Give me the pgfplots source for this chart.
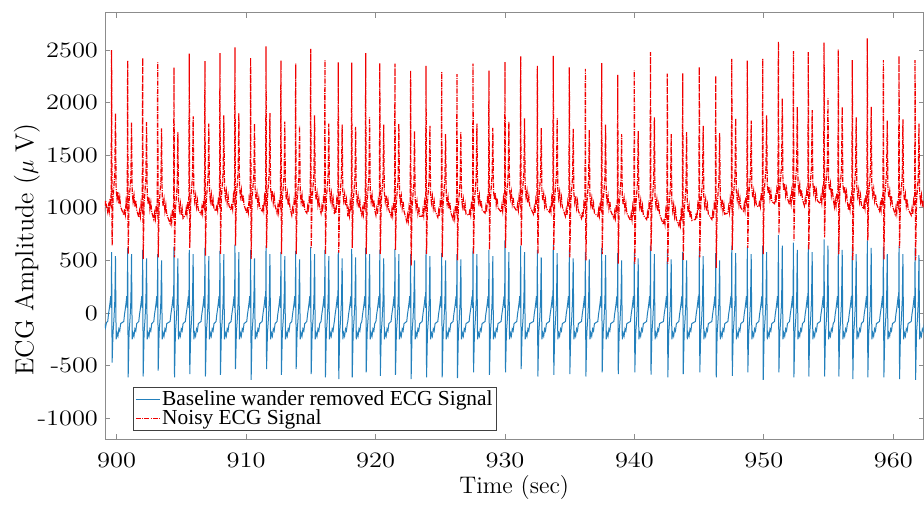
\documentclass[border=0pt]{standalone}
\usepackage{pgfplots}
\pgfplotsset{compat=1.18}
\usepackage{pgfplotstable}
\usepackage{graphicx}
\usepackage{fontspec}
\newfontfamily\legfont{Liberation Serif}
\definecolor{ecgblue}{RGB}{35,128,188}
\definecolor{ecgred}{RGB}{240,0,0}

\pgfplotstableread{
t r b
899.00 1060 -160
899.07 1000 -110
899.14 1070 -140
899.21 1020 -90
899.31 960 -80
899.37 1020 -10
899.43 970 40
899.49 1090 100
899.54 1050 160
899.58 1140 50
899.61 2500 580
899.65 640 -470
899.72 1090 -190
899.79 1210 -60
899.86 1330 120
899.91 1900 540
899.96 1180 -250
900.03 1090 -190
900.10 1150 -220
900.17 1040 -150
900.24 1100 -170
900.31 1010 -100
900.55 930 -80
900.61 990 -10
900.67 940 40
900.73 1060 100
900.78 1020 160
900.82 1110 50
900.85 2400 620
900.89 560 -612
900.96 1060 -190
901.03 1180 -60
901.10 1300 120
901.15 1810 560
901.20 1150 -250
901.27 1060 -190
901.34 1120 -220
901.41 1010 -150
901.48 1070 -170
901.55 980 -100
901.71 910 -80
901.77 970 -10
901.83 920 40
901.89 1040 100
901.94 1000 160
901.98 1090 50
902.01 2425 600
902.05 515 -603
902.12 1040 -190
902.19 1160 -60
902.26 1280 120
902.31 1815 520
902.36 1130 -250
902.43 1040 -190
902.50 1100 -220
902.57 990 -150
902.64 1050 -170
902.71 960 -100
902.87 890 -80
902.93 950 -10
902.99 900 40
903.05 1020 100
903.10 980 160
903.14 1070 50
903.17 2385 560
903.21 530 -548
903.28 1020 -190
903.35 1140 -60
903.42 1260 120
903.47 1755 500
903.52 1110 -250
903.59 1020 -190
903.66 1080 -220
903.73 970 -150
903.80 1030 -170
903.87 940 -100
904.13 850 -80
904.19 910 -10
904.25 860 40
904.31 980 100
904.36 940 160
904.40 1030 50
904.43 2335 630
904.47 530 -612
904.54 980 -190
904.61 1100 -60
904.68 1220 120
904.73 1720 520
904.78 1070 -250
904.85 980 -190
904.92 1040 -220
904.99 930 -150
905.06 990 -170
905.13 900 -100
905.31 930 -80
905.37 990 -10
905.43 940 40
905.49 1060 100
905.54 1020 160
905.58 1110 50
905.61 2465 600
905.65 620 -580
905.72 1060 -190
905.79 1180 -60
905.86 1300 120
905.91 1870 560
905.96 1150 -250
906.03 1060 -190
906.10 1120 -220
906.17 1010 -150
906.24 1070 -170
906.31 980 -100
906.52 940 -80
906.58 1000 -10
906.64 950 40
906.70 1070 100
906.75 1030 160
906.79 1120 50
906.82 2395 620
906.86 545 -603
906.93 1070 -190
907.00 1190 -60
907.07 1310 120
907.12 1800 540
907.17 1160 -250
907.24 1070 -190
907.31 1130 -220
907.38 1020 -150
907.45 1080 -170
907.52 990 -100
907.68 970 -80
907.74 1030 -10
907.80 980 40
907.86 1100 100
907.91 1060 160
907.95 1150 50
907.98 2470 590
908.02 560 -587
908.09 1100 -190
908.16 1220 -60
908.23 1340 120
908.28 1880 560
908.33 1190 -250
908.40 1100 -190
908.47 1160 -220
908.54 1050 -150
908.61 1110 -170
908.68 1020 -100
908.84 980 -80
908.90 1040 -10
908.96 990 40
909.02 1110 100
909.07 1070 160
909.11 1160 50
909.14 2525 650
909.18 640 -532
909.25 1110 -190
909.32 1230 -60
909.39 1350 120
909.44 1900 580
909.49 1200 -250
909.56 1110 -190
909.63 1170 -220
909.70 1060 -150
909.77 1120 -170
909.84 1030 -100
910.05 950 -80
910.11 1010 -10
910.17 960 40
910.23 1080 100
910.28 1040 160
910.32 1130 50
910.35 2425 600
910.39 515 -634
910.46 1080 -190
910.53 1200 -60
910.60 1320 120
910.65 1800 520
910.70 1170 -250
910.77 1080 -190
910.84 1140 -220
910.91 1030 -150
910.98 1090 -170
911.05 1000 -100
911.24 970 -80
911.30 1030 -10
911.36 980 40
911.42 1100 100
911.47 1060 160
911.51 1150 50
911.54 2535 640
911.58 620 -532
911.65 1100 -190
911.72 1220 -60
911.79 1340 120
911.84 1900 560
911.89 1190 -250
911.96 1100 -190
912.03 1160 -220
912.10 1050 -150
912.17 1110 -170
912.24 1020 -100
912.39 950 -80
912.45 1010 -10
912.51 960 40
912.57 1080 100
912.62 1040 160
912.66 1130 50
912.69 2400 580
912.73 560 -587
912.80 1080 -190
912.87 1200 -60
912.94 1320 120
912.99 1820 540
913.04 1170 -250
913.11 1080 -190
913.18 1140 -220
913.25 1030 -150
913.32 1090 -170
913.39 1000 -100
913.53 930 -80
913.59 990 -10
913.65 940 40
913.71 1060 100
913.76 1020 160
913.80 1110 50
913.83 2370 590
913.87 560 -532
913.94 1060 -190
914.01 1180 -60
914.08 1300 120
914.13 1780 510
914.18 1150 -250
914.25 1060 -190
914.32 1120 -220
914.39 1010 -150
914.46 1070 -170
914.53 980 -100
914.69 950 -80
914.75 1010 -10
914.81 960 40
914.87 1080 100
914.92 1040 160
914.96 1130 50
914.99 2510 630
915.03 620 -580
915.10 1080 -190
915.17 1200 -60
915.24 1320 120
915.29 1880 560
915.34 1170 -250
915.41 1080 -190
915.48 1140 -220
915.55 1030 -150
915.62 1090 -170
915.69 1000 -100
915.79 950 -80
915.85 1010 -10
915.91 960 40
915.97 1080 100
916.02 1040 160
916.06 1130 50
916.09 2405 600
916.13 560 -612
916.20 1080 -190
916.27 1200 -60
916.34 1320 120
916.39 1800 540
916.44 1170 -250
916.51 1080 -190
916.58 1140 -220
916.65 1030 -150
916.72 1090 -170
916.79 1000 -100
916.82 940 -80
916.88 1000 -10
916.94 950 40
917.00 1070 100
917.05 1030 160
917.09 1120 50
917.12 2385 580
917.16 575 -628
917.23 1070 -190
917.30 1190 -60
917.37 1310 120
917.42 1790 520
917.47 1160 -250
917.54 1070 -190
917.61 1130 -220
917.68 1020 -150
917.75 1080 -170
917.82 990 -100
917.86 920 -80
917.92 980 -10
917.98 930 40
918.04 1050 100
918.09 1010 160
918.13 1100 50
918.16 2380 610
918.20 620 -612
918.27 1050 -190
918.34 1170 -60
918.41 1290 120
918.46 1770 530
918.51 1140 -250
918.58 1050 -190
918.65 1110 -220
918.72 1000 -150
918.79 1060 -170
918.86 970 -100
918.94 930 -80
919.00 990 -10
919.06 940 40
919.12 1060 100
919.17 1020 160
919.21 1110 50
919.24 2470 620
919.28 560 -564
919.35 1060 -190
919.42 1180 -60
919.49 1300 120
919.54 1860 560
919.59 1150 -250
919.66 1060 -190
919.73 1120 -220
919.80 1010 -150
919.87 1070 -170
919.94 980 -100
920.03 930 -80
920.09 990 -10
920.15 940 40
920.21 1060 100
920.26 1020 160
920.30 1110 50
920.33 2375 600
920.37 560 -596
920.44 1060 -190
920.51 1180 -60
920.58 1300 120
920.63 1790 520
920.68 1150 -250
920.75 1060 -190
920.82 1120 -220
920.89 1010 -150
920.96 1070 -170
921.03 980 -100
921.20 920 -80
921.26 980 -10
921.32 930 40
921.38 1050 100
921.43 1010 160
921.47 1100 50
921.50 2370 610
921.54 600 -587
921.61 1050 -190
921.68 1170 -60
921.75 1290 120
921.80 1800 560
921.85 1140 -250
921.92 1050 -190
921.99 1110 -220
922.06 1000 -150
922.13 1060 -170
922.20 970 -100
922.41 870 -80
922.47 930 -10
922.53 880 40
922.59 1000 100
922.64 960 160
922.68 1050 50
922.71 2305 560
922.75 450 -628
922.82 1000 -190
922.89 1120 -60
922.96 1240 120
923.01 1730 500
923.06 1090 -250
923.13 1000 -190
923.20 1060 -220
923.27 950 -150
923.34 1010 -170
923.41 920 -100
923.60 920 -80
923.66 980 -10
923.72 930 40
923.78 1050 100
923.83 1010 160
923.87 1100 50
923.90 2350 600
923.94 560 -612
924.01 1050 -190
924.08 1170 -60
924.15 1290 120
924.20 1780 540
924.25 1140 -250
924.32 1050 -190
924.39 1110 -220
924.46 1000 -150
924.53 1060 -170
924.60 970 -100
924.81 910 -80
924.87 970 -10
924.93 920 40
924.99 1040 100
925.04 1000 160
925.08 1090 50
925.11 2290 570
925.15 530 -612
925.22 1040 -190
925.29 1160 -60
925.36 1280 120
925.41 1700 500
925.46 1130 -250
925.53 1040 -190
925.60 1100 -220
925.67 990 -150
925.74 1050 -170
925.81 960 -100
925.99 890 -80
926.05 950 -10
926.11 900 40
926.17 1020 100
926.22 980 160
926.26 1070 50
926.29 2270 560
926.33 500 -618
926.40 1020 -190
926.47 1140 -60
926.54 1260 120
926.59 1720 510
926.64 1110 -250
926.71 1020 -190
926.78 1080 -220
926.85 970 -150
926.92 1030 -170
926.99 940 -100
927.23 930 -80
927.29 990 -10
927.35 940 40
927.41 1060 100
927.46 1020 160
927.50 1110 50
927.53 2370 620
927.57 560 -564
927.64 1060 -190
927.71 1180 -60
927.78 1300 120
927.83 1800 560
927.88 1150 -250
927.95 1060 -190
928.02 1120 -220
928.09 1010 -150
928.16 1070 -170
928.23 980 -100
928.46 950 -80
928.52 1010 -10
928.58 960 40
928.64 1080 100
928.69 1040 160
928.73 1130 50
928.76 2305 600
928.80 600 -587
928.87 1080 -190
928.94 1200 -60
929.01 1320 120
929.06 1760 540
929.11 1170 -250
929.18 1080 -190
929.25 1140 -220
929.32 1030 -150
929.39 1090 -170
929.46 1000 -100
929.70 960 -80
929.76 1020 -10
929.82 970 40
929.88 1090 100
929.93 1050 160
929.97 1140 50
930.00 2385 690
930.04 620 -564
930.11 1090 -190
930.18 1210 -60
930.25 1330 120
930.30 1820 580
930.35 1180 -250
930.42 1090 -190
930.49 1150 -220
930.56 1040 -150
930.63 1100 -170
930.70 1010 -100
930.91 970 -80
930.97 1030 -10
931.03 980 40
931.09 1100 100
931.14 1060 160
931.18 1150 50
931.21 2440 640
931.25 640 -532
931.32 1100 -190
931.39 1220 -60
931.46 1340 120
931.51 1850 580
931.56 1190 -250
931.63 1100 -190
931.70 1160 -220
931.77 1050 -150
931.84 1110 -170
931.91 1020 -100
932.20 940 -80
932.26 1000 -10
932.32 950 40
932.38 1070 100
932.43 1030 160
932.47 1120 50
932.50 2350 600
932.54 560 -603
932.61 1070 -190
932.68 1190 -60
932.75 1310 120
932.80 1760 530
932.85 1160 -250
932.92 1070 -190
932.99 1130 -220
933.06 1020 -150
933.13 1080 -170
933.20 990 -100
933.43 960 -80
933.49 1020 -10
933.55 970 40
933.61 1090 100
933.66 1050 160
933.70 1140 50
933.73 2445 650
933.77 600 -587
933.84 1090 -190
933.91 1210 -60
933.98 1330 120
934.03 1850 570
934.08 1180 -250
934.15 1090 -190
934.22 1150 -220
934.29 1040 -150
934.36 1100 -170
934.43 1010 -100
934.67 920 -80
934.73 980 -10
934.79 930 40
934.85 1050 100
934.90 1010 160
934.94 1100 50
934.97 2335 600
935.01 530 -580
935.08 1050 -190
935.15 1170 -60
935.22 1290 120
935.27 1750 520
935.32 1140 -250
935.39 1050 -190
935.46 1110 -220
935.53 1000 -150
935.60 1060 -170
935.67 970 -100
935.91 900 -80
935.97 960 -10
936.03 910 40
936.09 1030 100
936.14 990 160
936.18 1080 50
936.21 2320 580
936.25 500 -603
936.32 1030 -190
936.39 1150 -60
936.46 1270 120
936.51 1740 510
936.56 1120 -250
936.63 1030 -190
936.70 1090 -220
936.77 980 -150
936.84 1040 -170
936.91 950 -100
937.17 920 -80
937.23 980 -10
937.29 930 40
937.35 1050 100
937.40 1010 160
937.44 1100 50
937.47 2375 620
937.51 560 -564
937.58 1050 -190
937.65 1170 -60
937.72 1290 120
937.77 1790 550
937.82 1140 -250
937.89 1050 -190
937.96 1110 -220
938.03 1000 -150
938.10 1060 -170
938.17 970 -100
938.41 900 -80
938.47 960 -10
938.53 910 40
938.59 1030 100
938.64 990 160
938.68 1080 50
938.71 2265 570
938.75 470 -580
938.82 1030 -190
938.89 1150 -60
938.96 1270 120
939.01 1700 500
939.06 1120 -250
939.13 1030 -190
939.20 1090 -220
939.27 980 -150
939.34 1040 -170
939.41 950 -100
939.69 880 -80
939.75 940 -10
939.81 890 40
939.87 1010 100
939.92 970 160
939.96 1060 50
939.99 2305 580
940.03 470 -564
940.10 1010 -190
940.17 1130 -60
940.24 1250 120
940.29 1730 520
940.34 1100 -250
940.41 1010 -190
940.48 1070 -220
940.55 960 -150
940.62 1020 -170
940.69 930 -100
940.94 890 -80
941.00 950 -10
941.06 900 40
941.12 1020 100
941.17 980 160
941.21 1070 50
941.24 2480 640
941.28 590 -585
941.35 1020 -190
941.42 1140 -60
941.49 1260 120
941.54 1860 560
941.59 1110 -250
941.66 1020 -190
941.73 1080 -220
941.80 970 -150
941.87 1030 -170
941.94 940 -100
942.24 840 -80
942.30 900 -10
942.36 850 40
942.42 970 100
942.47 930 160
942.51 1020 50
942.54 2275 600
942.58 470 -612
942.65 970 -190
942.72 1090 -60
942.79 1210 120
942.84 1700 510
942.89 1060 -250
942.96 970 -190
943.03 1030 -220
943.10 920 -150
943.17 980 -170
943.24 890 -100
943.43 830 -80
943.49 890 -10
943.55 840 40
943.61 960 100
943.66 920 160
943.70 1010 50
943.73 2280 580
943.77 500 -580
943.84 960 -190
943.91 1080 -60
943.98 1200 120
944.03 1720 500
944.08 1050 -250
944.15 960 -190
944.22 1020 -220
944.29 910 -150
944.36 970 -170
944.43 880 -100
944.71 890 -80
944.77 950 -10
944.83 900 40
944.89 1020 100
944.94 980 160
944.98 1070 50
945.01 2340 620
945.05 530 -564
945.12 1020 -190
945.19 1140 -60
945.26 1260 120
945.31 1780 540
945.36 1110 -250
945.43 1020 -190
945.50 1080 -220
945.57 970 -150
945.64 1030 -170
945.71 940 -100
945.98 890 -80
946.04 950 -10
946.10 900 40
946.16 1020 100
946.21 980 160
946.25 1070 50
946.28 2255 570
946.32 430 -612
946.39 1020 -190
946.46 1140 -60
946.53 1260 120
946.58 1710 500
946.63 1110 -250
946.70 1020 -190
946.77 1080 -220
946.84 970 -150
946.91 1030 -170
946.98 940 -100
947.22 950 -80
947.28 1010 -10
947.34 960 40
947.40 1080 100
947.45 1040 160
947.49 1130 50
947.52 2415 640
947.56 600 -596
947.63 1080 -190
947.70 1200 -60
947.77 1320 120
947.82 1850 570
947.87 1170 -250
947.94 1080 -190
948.01 1140 -220
948.08 1030 -150
948.15 1090 -170
948.22 1000 -100
948.42 970 -80
948.48 1030 -10
948.54 980 40
948.60 1100 100
948.65 1060 160
948.69 1150 50
948.72 2400 630
948.76 620 -564
948.83 1100 -190
948.90 1220 -60
948.97 1340 120
949.02 1830 560
949.07 1190 -250
949.14 1100 -190
949.21 1160 -220
949.28 1050 -150
949.35 1110 -170
949.42 1020 -100
949.61 1010 -80
949.67 1070 -10
949.73 1020 40
949.79 1140 100
949.84 1100 160
949.88 1190 50
949.91 2415 640
949.95 560 -634
950.02 1140 -190
950.09 1260 -60
950.16 1380 120
950.21 1880 580
950.26 1230 -250
950.33 1140 -190
950.40 1200 -220
950.47 1090 -150
950.54 1150 -170
950.61 1060 -100
950.82 1040 -80
950.88 1100 -10
950.94 1050 40
951.00 1170 100
951.05 1130 160
951.09 1220 50
951.12 2580 740
951.16 750 -564
951.23 1170 -190
951.30 1290 -60
951.37 1410 120
951.42 2040 640
951.47 1260 -250
951.54 1170 -190
951.61 1230 -220
951.68 1120 -150
951.75 1180 -170
951.82 1090 -100
951.98 1030 -80
952.04 1090 -10
952.10 1040 40
952.16 1160 100
952.21 1120 160
952.25 1210 50
952.28 2490 670
952.32 690 -612
952.39 1160 -190
952.46 1280 -60
952.53 1400 120
952.58 1960 600
952.63 1250 -250
952.70 1160 -190
952.77 1220 -220
952.84 1110 -150
952.91 1170 -170
952.98 1080 -100
953.13 1020 -80
953.19 1080 -10
953.25 1030 40
953.31 1150 100
953.36 1110 160
953.40 1200 50
953.43 2480 650
953.47 600 -603
953.54 1150 -190
953.61 1270 -60
953.68 1390 120
953.73 1930 580
953.78 1240 -250
953.85 1150 -190
953.92 1210 -220
953.99 1100 -150
954.06 1160 -170
954.13 1070 -100
954.35 1040 -80
954.41 1100 -10
954.47 1050 40
954.53 1170 100
954.58 1130 160
954.62 1220 50
954.65 2570 700
954.69 720 -603
954.76 1170 -190
954.83 1290 -60
954.90 1410 120
954.95 2040 640
955.00 1260 -250
955.07 1170 -190
955.14 1230 -220
955.21 1120 -150
955.28 1180 -170
955.35 1090 -100
955.45 1010 -80
955.51 1070 -10
955.57 1020 40
955.63 1140 100
955.68 1100 160
955.72 1190 50
955.75 2505 670
955.79 560 -603
955.86 1140 -190
955.93 1260 -60
956.00 1380 120
956.05 1960 600
956.10 1230 -250
956.17 1140 -190
956.24 1200 -220
956.31 1090 -150
956.38 1150 -170
956.45 1060 -100
956.53 980 -80
956.59 1040 -10
956.65 990 40
956.71 1110 100
956.76 1070 160
956.80 1160 50
956.83 2405 630
956.87 500 -628
956.94 1110 -190
957.01 1230 -60
957.08 1350 120
957.13 1860 560
957.18 1200 -250
957.25 1110 -190
957.32 1170 -220
957.39 1060 -150
957.46 1120 -170
957.53 1030 -100
957.69 990 -80
957.75 1050 -10
957.81 1000 40
957.87 1120 100
957.92 1080 160
957.96 1170 50
957.99 2610 690
958.03 690 -612
958.10 1120 -190
958.17 1240 -60
958.24 1360 120
958.29 1960 620
958.34 1210 -250
958.41 1120 -190
958.48 1180 -220
958.55 1070 -150
958.62 1130 -170
958.69 1040 -100
958.93 970 -80
958.99 1030 -10
959.05 980 40
959.11 1100 100
959.16 1060 160
959.20 1150 50
959.23 2405 630
959.27 510 -612
959.34 1100 -190
959.41 1220 -60
959.48 1340 120
959.53 1830 560
959.58 1190 -250
959.65 1100 -190
959.72 1160 -220
959.79 1050 -150
959.86 1110 -170
959.93 1020 -100
960.14 940 -80
960.20 1000 -10
960.26 950 40
960.32 1070 100
960.37 1030 160
960.41 1120 50
960.44 2445 640
960.48 620 -628
960.55 1070 -190
960.62 1190 -60
960.69 1310 120
960.74 1840 560
960.79 1160 -250
960.86 1070 -190
960.93 1130 -220
961.00 1020 -150
961.07 1080 -170
961.14 990 -100
961.38 930 -80
961.44 990 -10
961.50 940 40
961.56 1060 100
961.61 1020 160
961.65 1110 50
961.68 2405 620
961.72 500 -634
961.79 1060 -190
961.86 1180 -60
961.93 1300 120
961.98 1800 550
962.03 1150 -250
962.10 1060 -190
962.17 1120 -220
962.24 1010 -150
962.31 1070 -170
962.38 980 -100
}\ecgdata

\begin{document}
\begin{tikzpicture}
\begin{axis}[
  scale only axis,
  width=409.25pt, height=213.3pt,
  xmin=899.1, xmax=962.33,
  ymin=-1200, ymax=2855,
  xtick={900,910,...,960},
  ytick={-1000,-500,...,2500},
  tick align=inside,
  major tick length=2.5pt,
  axis line style={draw=black!45},
  every tick/.style={draw=black!45},
  /pgf/number format/1000 sep={},
  ticklabel style={font=\fontsize{11}{13}\selectfont},
  xticklabel={\scalebox{1.2}[1]{\pgfmathprintnumber[assume math mode=true]{\tick}}},
  yticklabel={\scalebox{1.2}[1]{\pgfmathprintnumber[assume math mode=true]{\tick}}},
  xticklabel style={yshift=-3.2pt},
  xlabel={Time (sec)},
  ylabel={ECG Amplitude ($\mu$ V)},
  xlabel style={font=\fontsize{12}{14}\selectfont, at={(axis description cs:0.5,0)}, anchor=base, yshift=-27.3pt},
  ylabel style={font=\fontsize{13}{15}\selectfont, at={(axis description cs:-0.0953,0.445)}, anchor=center},
  legend style={at={(axis description cs:0.0342,0.0195)}, anchor=south west,
    draw=black!75, fill=white, font=\legfont\fontsize{10.7}{12}\selectfont,
    inner xsep=1pt, inner ysep=0.5pt, row sep=-1.5pt,
    nodes={inner xsep=0.8pt, inner ysep=1pt}},
  legend cell align=left,
  legend image code/.code={\draw[#1] (0pt,0pt) -- (12pt,0pt);},
]
\addplot[ecgblue, line width=0.5pt] table[x=t, y=b] {\ecgdata};
\addlegendentry{Baseline wander removed ECG Signal}
\addplot[ecgred, line width=0.6pt, dash pattern=on 2.5pt off 0.6pt on 0.5pt off 0.6pt] table[x=t, y=r] {\ecgdata};
\addlegendentry{Noisy ECG Signal}
\end{axis}
\path ([xshift=-52.5pt,yshift=-30.35pt]current axis.south west) rectangle ([xshift=0.25pt,yshift=6.35pt]current axis.north east);
\end{tikzpicture}
\end{document}
